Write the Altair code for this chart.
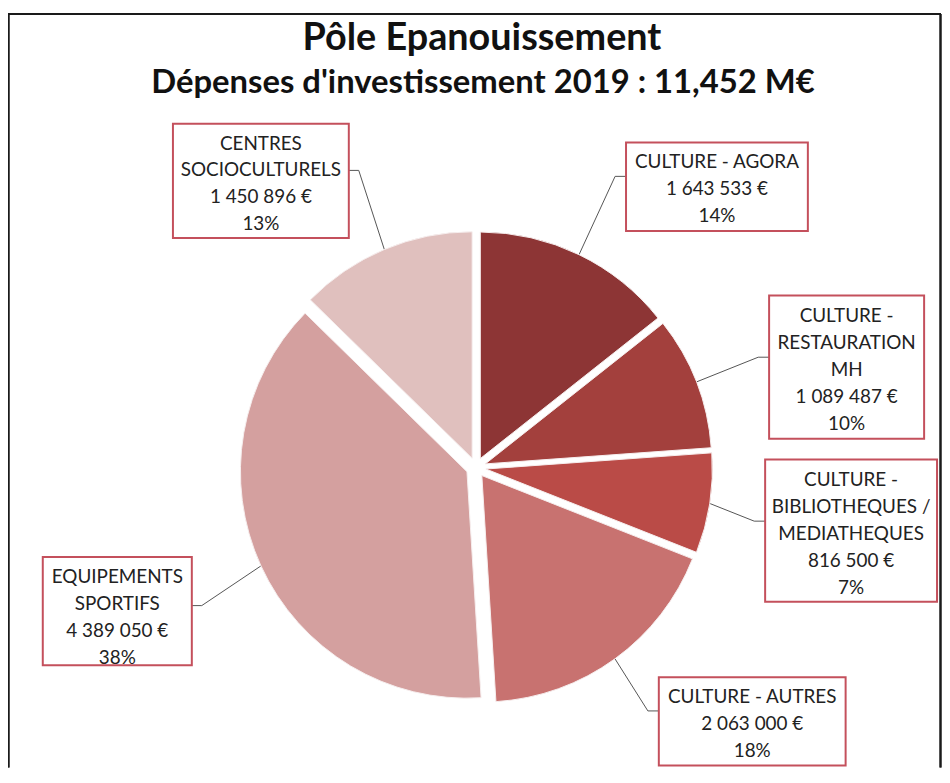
import altair as alt
import pandas as pd

# ---- data ----
names = [
    "CULTURE - AGORA",
    "CULTURE -\nRESTAURATION\nMH",
    "CULTURE -\nBIBLIOTHEQUES /\nMEDIATHEQUES",
    "CULTURE - AUTRES",
    "EQUIPEMENTS\nSPORTIFS",
    "CENTRES\nSOCIOCULTURELS",
]
values = [1643533, 1089487, 816500, 2063000, 4389050, 1450896]
colors = ["#8D3535", "#A3403D", "#BA4B47", "#C87270", "#D4A09F", "#E0C0BE"]

title_main = "Pôle Epanouissement"
title_sub = "Dépenses d'investissement 2019 : 11,452 M€"

# ---- layout (pixels in plot area) ----
CX, CY, R, EXPLODE = 471, 460, 228, 10
LINE_H = 27
box_left = [622, 766, 762, 655, 35, 166]
box_top = [133, 287, 452, 671, 550, 114]
box_right = [805, 922, 935, 843, 185, 343]
box_bottom = [222, 431, 595, 760, 659, 229]
leader_y = [167, 349, 514, 705, 599, 161]
box_side = ["right", "right", "right", "right", "left", "left"]
text_y = [179, 361, 526, 717, 610, 172]
line_h = [27, 27, 27, 27, 27, 26]

total = sum(values)


def fr_int(v):
    return f"{v:,}".replace(",", " ")


rows = []
for i, (n, v) in enumerate(zip(names, values)):
    pct = round(v / total * 100)
    side = box_side[i]
    edge = box_left[i] if side == "right" else box_right[i]
    elbow = edge - 11 if side == "right" else edge + 10
    label = f"{n}\n{fr_int(v)} €\n{pct}%"
    nlines = label.count("\n") + 1
    rows.append(
        dict(
            order=i,
            value=v,
            color=colors[i],
            label=label,
            bx0=box_left[i],
            bx1=box_right[i],
            by0=box_top[i],
            by1=box_bottom[i],
            bxc=(box_left[i] + box_right[i]) / 2,
            ty=text_y[i] + 1 - (nlines - 1) * line_h[i] / 2,
            lh=line_h[i],
            ly=leader_y[i],
            edge=edge,
            elbow=elbow,
        )
    )
df = pd.DataFrame(rows)

base = (
    alt.Chart(df)
    .transform_joinaggregate(total="sum(value)")
    .transform_window(cum="sum(value)", sort=[alt.SortField("order")], frame=[None, 0])
    .transform_calculate(
        t0="2*PI*(datum.cum - datum.value)/datum.total",
        t1="2*PI*datum.cum/datum.total",
        mid="2*PI*(datum.cum - datum.value/2)/datum.total",
    )
    .transform_calculate(
        cx=f"{CX} + {EXPLODE}*sin(datum.mid)",
        cy=f"{CY} - {EXPLODE}*cos(datum.mid)",
    )
    .transform_calculate(
        ax=f"datum.cx + {R}*sin(datum.mid)",
        ay=f"datum.cy - {R}*cos(datum.mid)",
    )
)

arcs = base.mark_arc(outerRadius=R, stroke="#f6eeee", strokeWidth=1).encode(
    theta=alt.Theta("t0:Q", scale=None),
    theta2="t1:Q",
    x=alt.X("cx:Q", scale=None),
    y=alt.Y("cy:Q", scale=None),
    color=alt.Color("color:N", scale=None),
)

seg1 = base.mark_rule(color="#555555", strokeWidth=1).encode(
    x=alt.X("ax:Q", scale=None),
    y=alt.Y("ay:Q", scale=None),
    x2="elbow:Q",
    y2="ly:Q",
)
seg2 = base.mark_rule(color="#555555", strokeWidth=1).encode(
    x=alt.X("elbow:Q", scale=None),
    y=alt.Y("ly:Q", scale=None),
    x2="edge:Q",
    y2="ly:Q",
)

boxes = base.mark_rect(fill="white", stroke="#C4505C", strokeWidth=2).encode(
    x=alt.X("bx0:Q", scale=None),
    x2="bx1:Q",
    y=alt.Y("by0:Q", scale=None),
    y2="by1:Q",
)

labels = base.mark_text(
    font="Lato", fontSize=19, color="#222222", lineBreak="\n", lineHeight=LINE_H,
    align="center", baseline="middle",
).encode(
    x=alt.X("bxc:Q", scale=None),
    y=alt.Y("ty:Q", scale=None),
    text="label:N",
)

titles_df = pd.DataFrame({"t": [title_main, title_sub], "x": [477, 478], "y": [40, 83], "s": [38, 33]})
titles = alt.Chart(titles_df).mark_text(
    font="Lato", fontWeight="bold", color="#111111", align="center", baseline="alphabetic"
).encode(
    x=alt.X("x:Q", scale=None),
    y=alt.Y("y:Q", scale=None),
    text="t:N",
    size=alt.Size("s:Q", scale=None, legend=None),
)

frame_top = alt.Chart(titles_df).mark_rule(color="#1a1a1a", strokeWidth=2).encode(
    x=alt.value(0), x2=alt.value(939), y=alt.value(3.5)
)
frame_left = alt.Chart(titles_df).mark_rule(color="#1a1a1a", strokeWidth=2).encode(
    x=alt.value(0.5), y=alt.value(3.5), y2=alt.value(762)
)
frame_right = alt.Chart(titles_df).mark_rule(color="#1a1a1a", strokeWidth=2).encode(
    x=alt.value(938.5), y=alt.value(3.5), y2=alt.value(762)
)

chart = (
    alt.layer(seg1, seg2, arcs, boxes, labels, titles, frame_top, frame_left, frame_right)
    .properties(width=940, height=762, padding=0, autosize=alt.AutoSizeParams(type="none"))
    .configure_view(stroke=None)
)

chart.save("out.html", embed_options={"renderer": "svg", "actions": False})
